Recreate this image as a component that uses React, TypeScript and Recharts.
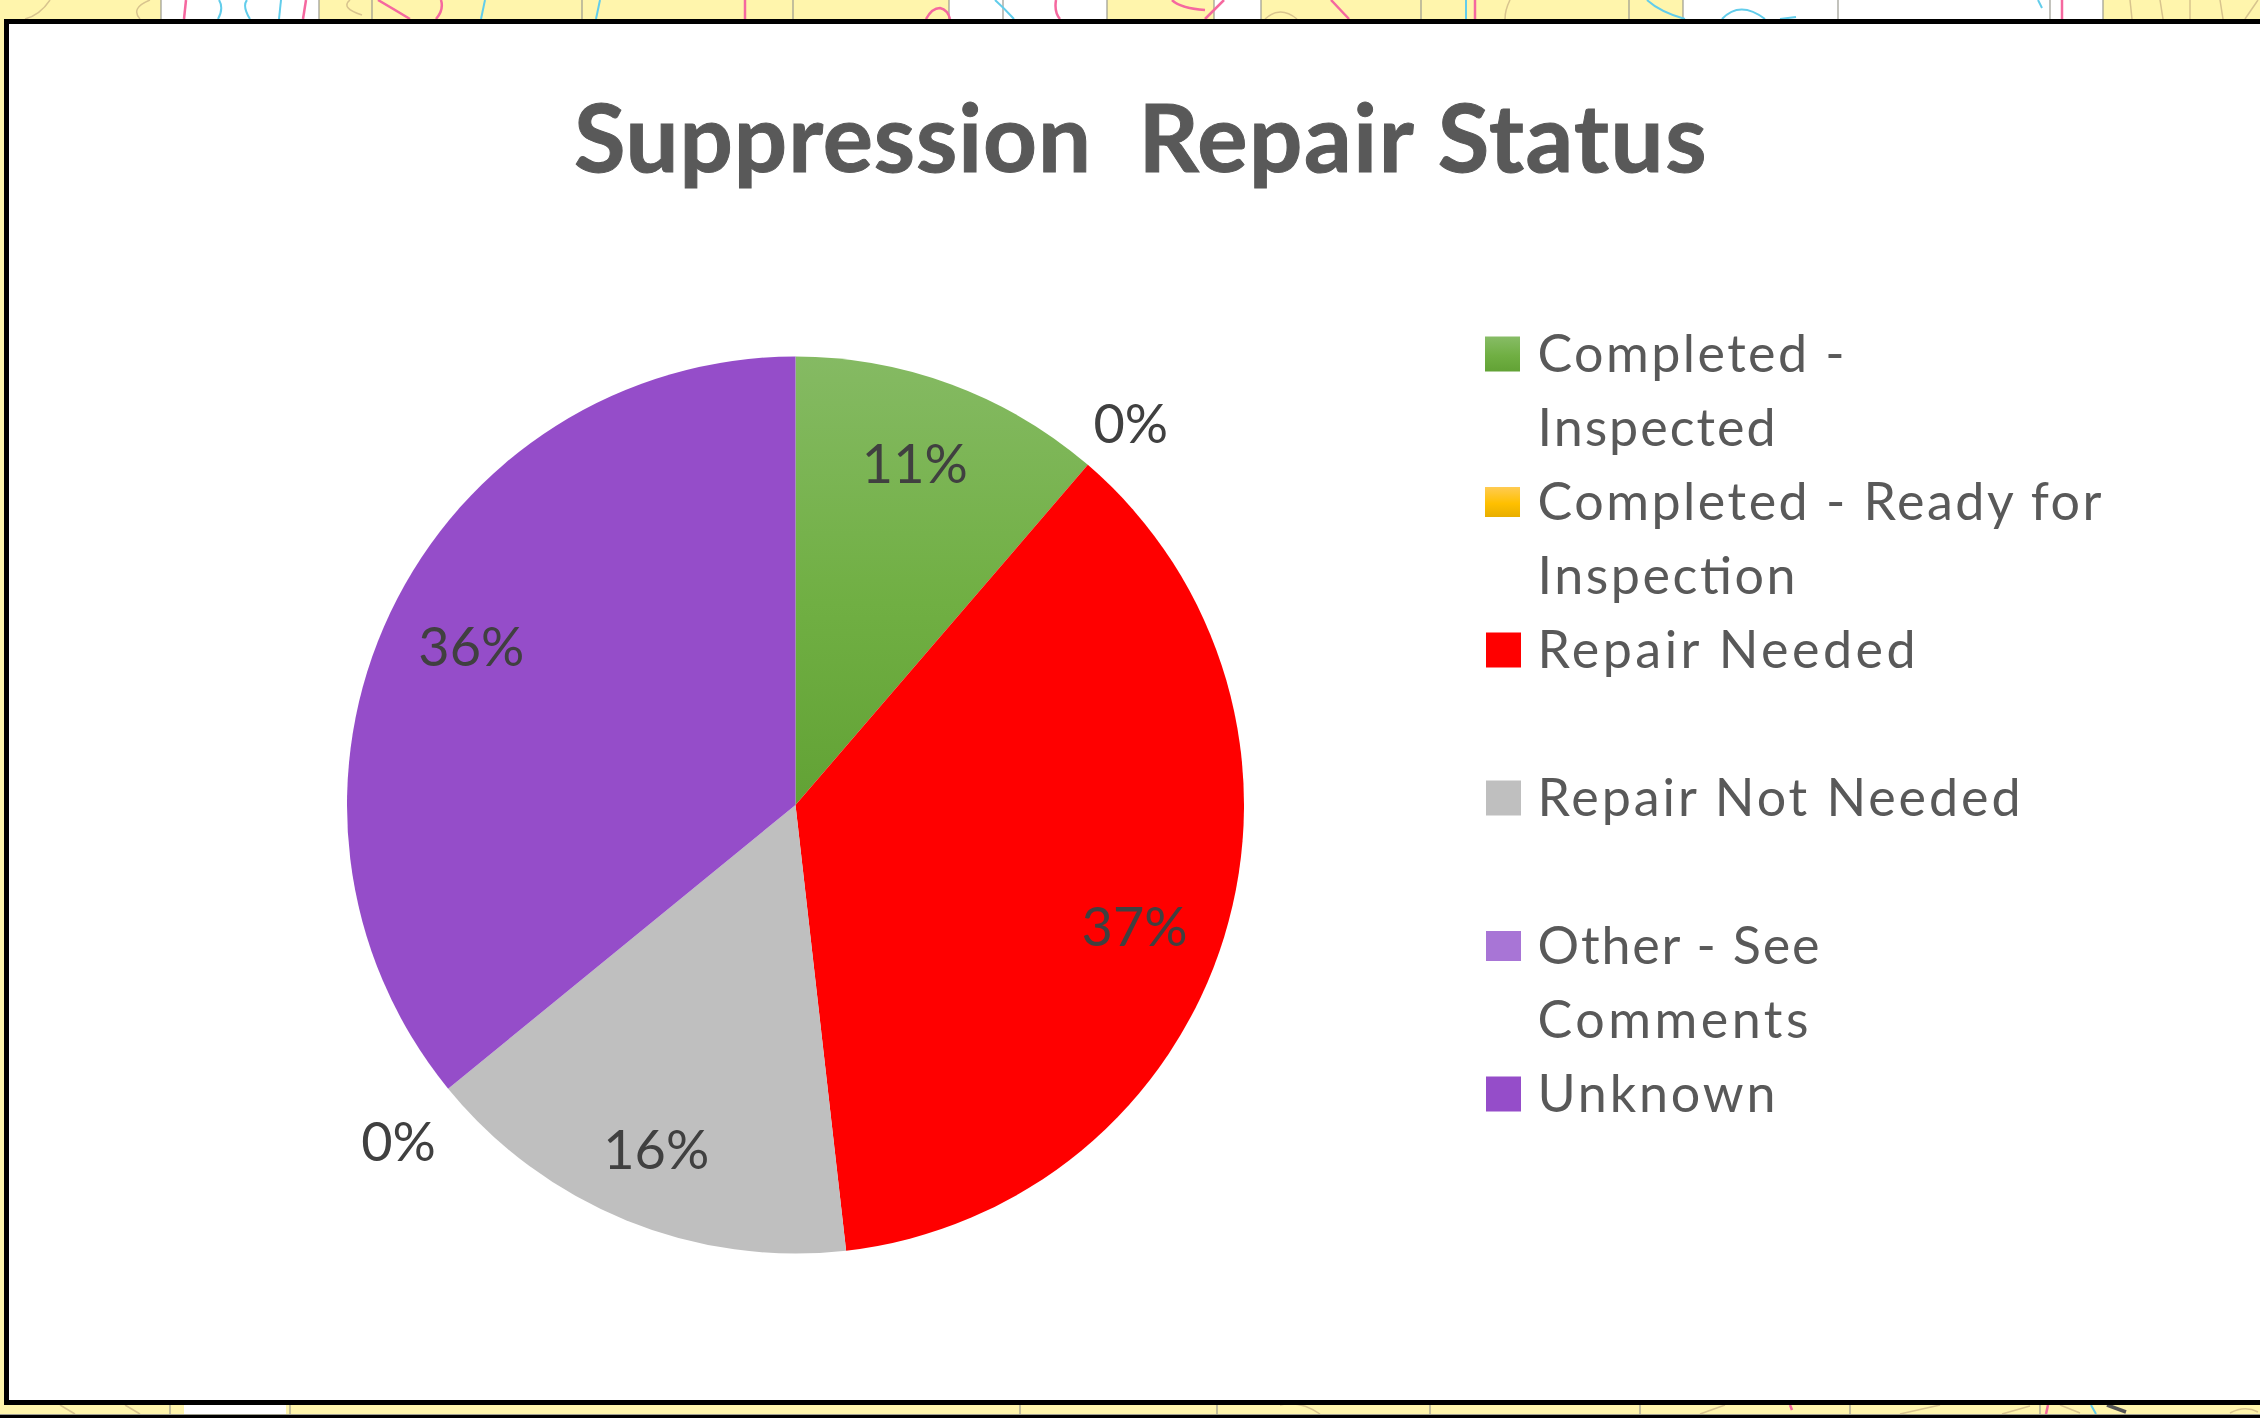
import React from "react";
import { PieChart, Pie, Cell, Legend } from "recharts";

// ---- data ----
const categories = [
  "Completed - Inspected",
  "Completed - Ready for Inspection",
  "Repair Needed",
  "Repair Not Needed",
  "Other - See Comments",
  "Unknown",
];
const values = [11.3, 0, 36.9, 15.9, 0, 35.9];
const sliceFills = [
  "url(#gradGreen)",
  "url(#gradYellow)",
  "#FF0000",
  "#BFBFBF",
  "#A875D6",
  "#954DC9",
];
const legendLines = [
  ["Completed -", "Inspected"],
  ["Completed - Ready for", "Inspection"],
  ["Repair Needed"],
  ["Repair Not Needed"],
  ["Other - See", "Comments"],
  ["Unknown"],
];
const title = "Suppression  Repair Status";

// ---- layout ----
const W = 2260;
const H = 1418;
const CX = 795.5;
const CY = 805;
const R = 448.5;
const labelRadius = [0.81, 1.133, 0.805, 0.83, 1.16, 0.8];
const labelShiftX = [-7, 4, -6, 1, 6, 0];
const labelShiftY = [-1.5, 3, 14, -1, 6, -6];
const legendRowsStart = [0, 2, 4, 6, 8, 10];
const legendSwatchH = [35, 30, 35, 35, 30, 35];
const legendSwatchX = [1485, 1485, 1486, 1486, 1486, 1486];
const legendTextWidths: Record<string, number> = {
  "Completed -": 307,
  Inspected: 238,
  "Completed - Ready for": 564,
  Inspection: 258,
  "Repair Needed": 378,
  "Repair Not Needed": 483,
  "Other - See": 282,
  Comments: 271,
  Unknown: 238,
};
const FONT = "Lato, 'Open Sans', sans-serif";

// Map showing behind the chart frame
const whiteBlocks = [
  [161, 319, 0, 19],
  [949, 1107, 0, 19],
  [1214, 1261, 0, 19],
  [1683, 2103, 0, 19],
  [184, 286, 1405, 1414],
];
const grayLines = [161, 319, 372, 582, 793, 949, 1003, 1107, 1214, 1261, 1421, 1629, 1683, 1838, 2050, 2103];
const bottomLines = [170, 290, 1020, 1217, 1430, 1640, 1850, 2040];
const pinkPaths = [
  "M186 0 L184 19",
  "M306 0 L303 19",
  "M378 0 Q395 10 410 19",
  "M441 0 Q444 10 436 19",
  "M745 0 L745 19",
  "M926 19 Q932 8 940 8 Q948 10 950 19",
  "M1056 0 Q1054 12 1060 19",
  "M1172 0 Q1180 8 1205 10",
  "M1224 0 L1205 19",
  "M1331 0 L1349 19",
  "M1475 0 L1475 19",
  "M2062 0 L2062 19",
  "M1790 1405 L1792 1410",
  "M2048 1405 L2046 1414",
];
const cyanPaths = [
  "M219 0 Q224 8 218 19",
  "M247 0 Q242 6 250 19",
  "M281 0 L279 19",
  "M485 0 L481 19",
  "M600 0 L596 19",
  "M995 0 Q1004 8 1014 19",
  "M1466 0 L1466 19",
  "M1647 0 Q1660 12 1685 19",
  "M1722 19 Q1740 0 1765 19",
  "M1780 19 L1796 17",
  "M2038 0 L2042 8",
  "M2091 1405 L2096 1414",
];
const tanPaths = [
  "M50 0 Q40 15 25 19",
  "M150 0 Q130 8 140 19",
  "M350 0 Q340 8 362 15",
  "M1265 19 Q1280 5 1297 19",
  "M1510 0 Q1505 10 1505 19",
  "M2130 0 L2132 19",
  "M2160 0 L2163 19",
  "M2190 0 L2190 19",
  "M2220 0 L2223 19",
  "M2245 19 L2258 0",
  "M60 1405 L75 1414",
  "M125 1405 L140 1414",
  "M1280 1405 Q1300 1400 1320 1414",
  "M1700 1414 L1725 1405",
  "M1900 1414 L1940 1405",
  "M2002 1414 L2030 1406",
  "M2060 1405 L2080 1413",
  "M2230 1413 Q2245 1405 2258 1412",
];

const data = categories.map((name, i) => ({ name, value: values[i] }));

function renderLabel(p: any) {
  const rad = (p.midAngle * Math.PI) / 180;
  const r = p.outerRadius * labelRadius[p.index];
  return (
    <text
      key={p.index}
      x={p.cx + r * Math.cos(-rad) + labelShiftX[p.index]}
      y={p.cy + r * Math.sin(-rad) + labelShiftY[p.index]}
      textAnchor="middle"
      dominantBaseline="central"
      fontFamily={FONT}
      fontSize={54}
      fill="#404040"
    >
      {Math.round(p.percent * 100)}%
    </text>
  );
}

function LegendBody() {
  return (
    <svg width={W} height={H} style={{ position: "absolute", left: 0, top: 0, pointerEvents: "none" }}>
      <defs>
        <linearGradient id="lgGreen" x1="0" y1="0" x2="0" y2="1">
          <stop offset="0" stopColor="#87BC66" />
          <stop offset="0.55" stopColor="#70AF43" />
          <stop offset="1" stopColor="#62A235" />
        </linearGradient>
        <linearGradient id="lgYellow" x1="0" y1="0" x2="0" y2="1">
          <stop offset="0" stopColor="#FFCB52" />
          <stop offset="0.55" stopColor="#FFC000" />
          <stop offset="1" stopColor="#E8AE00" />
        </linearGradient>
      </defs>
      {categories.map((c, i) => {
        const baseline = 372 + legendRowsStart[i] * 74;
        const swH = legendSwatchH[i];
        const fill = i === 0 ? "url(#lgGreen)" : i === 1 ? "url(#lgYellow)" : sliceFills[i];
        return (
          <g key={c}>
            <rect x={legendSwatchX[i]} y={baseline - 18 - swH / 2} width={35} height={swH} fill={fill} />
            {legendLines[i].map((line, j) => (
              <text
                key={line}
                x={1537.5}
                y={baseline + j * 74}
                fontFamily={FONT}
                fontSize={52}
                fill="#595959"
                textLength={legendTextWidths[line]}
                lengthAdjust="spacing"
              >
                {line}
              </text>
            ))}
          </g>
        );
      })}
    </svg>
  );
}

const titleParts = title.split("  ");

export default function App() {
  return (
    <div style={{ position: "absolute", left: 0, top: 0, width: W, height: H, overflow: "hidden", background: "#FFF5AC" }}>
      <svg width={W} height={H} style={{ position: "absolute", left: 0, top: 0 }}>
        {whiteBlocks.map((b, i) => (
          <rect key={i} x={b[0]} y={b[2]} width={b[1] - b[0]} height={b[3] - b[2]} fill="#FFFFFF" />
        ))}
        {grayLines.map((x) => (
          <line key={x} x1={x} x2={x} y1={0} y2={19} stroke="#9A9A90" strokeWidth={1.2} />
        ))}
        {bottomLines.map((x) => (
          <line key={x} x1={x} x2={x} y1={1405} y2={1414} stroke="#9A9A90" strokeWidth={1.2} />
        ))}
        {tanPaths.map((d, i) => (
          <path key={i} d={d} fill="none" stroke="#D8C48E" strokeWidth={1.5} />
        ))}
        {cyanPaths.map((d, i) => (
          <path key={i} d={d} fill="none" stroke="#62CDEB" strokeWidth={2} />
        ))}
        {pinkPaths.map((d, i) => (
          <path key={i} d={d} fill="none" stroke="#F5689F" strokeWidth={2.5} />
        ))}
        <path d="M2107 1405 L2126 1412" fill="none" stroke="#555555" strokeWidth={3.5} />
        <rect x={0} y={1414} width={W} height={1.5} fill="#9C9C90" />
        <rect x={0} y={1415} width={W} height={3} fill="#000000" />
      </svg>
      <div
        style={{
          position: "absolute",
          left: 3.5,
          top: 19,
          width: W + 40,
          height: 1376,
          border: "5px solid #000000",
          background: "#FFFFFF",
        }}
      />
      <div style={{ position: "absolute", left: 0, top: 0 }}>
        <PieChart width={W} height={H} margin={{ top: 0, right: 0, bottom: 0, left: 0 }}>
          <defs>
            <linearGradient id="gradGreen" x1="0" y1="0" x2="0" y2="1">
              <stop offset="0" stopColor="#85BA63" />
              <stop offset="0.55" stopColor="#70AF43" />
              <stop offset="1" stopColor="#62A235" />
            </linearGradient>
            <linearGradient id="gradYellow" x1="0" y1="0" x2="0" y2="1">
              <stop offset="0" stopColor="#FFCB52" />
              <stop offset="1" stopColor="#E8AE00" />
            </linearGradient>
          </defs>
          <text
            y={172}
            fontFamily={FONT}
            fontWeight={700}
            fontSize={94}
            fill="#595959"
            stroke="#595959"
            strokeWidth={1}
            style={{ whiteSpace: "pre" }}
          >
            <tspan x={574} textLength={517} lengthAdjust="spacing">{titleParts[0]}</tspan>
            <tspan>{"  "}</tspan>
            <tspan x={1138.5} textLength={568} lengthAdjust="spacing">{titleParts[1]}</tspan>
          </text>
          <Pie
            data={data}
            dataKey="value"
            nameKey="name"
            cx={CX}
            cy={CY}
            outerRadius={R}
            innerRadius={0}
            startAngle={90}
            endAngle={-270}
            stroke="none"
            label={renderLabel}
            labelLine={false}
            isAnimationActive={false}
          >
            {data.map((d, i) => (
              <Cell key={d.name} fill={sliceFills[i]} stroke="none" />
            ))}
          </Pie>
          <Legend content={<LegendBody />} wrapperStyle={{ position: "absolute", left: 0, top: 0, width: W, height: H }} />
        </PieChart>
      </div>
    </div>
  );
}
